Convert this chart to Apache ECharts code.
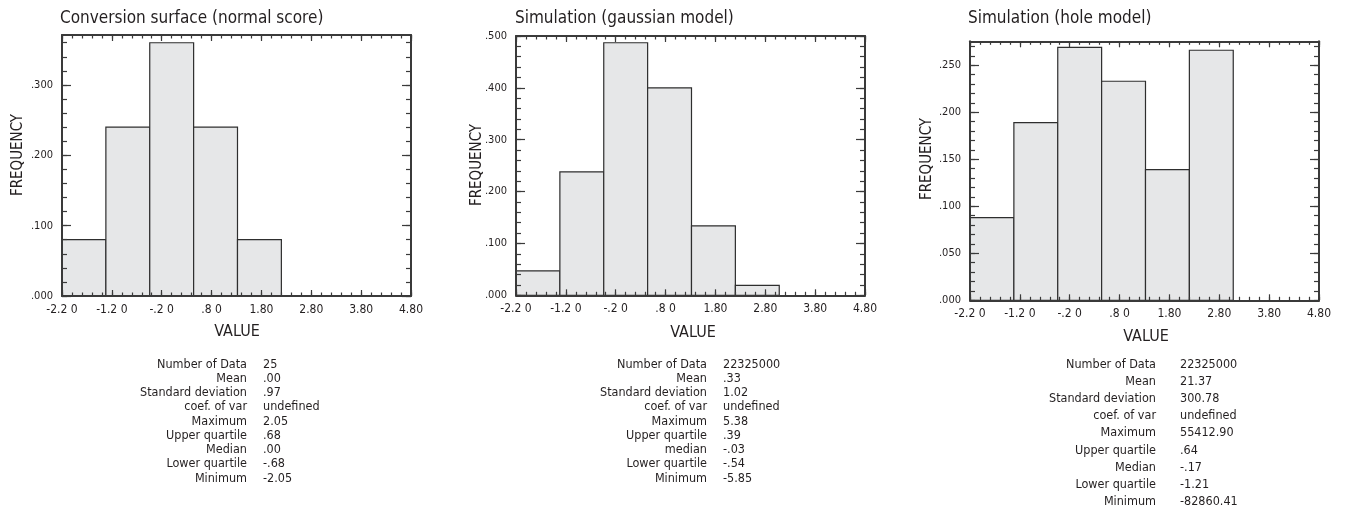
<!DOCTYPE html>
<html>
<head>
<meta charset="utf-8">
<script src="https://cdn.jsdelivr.net/npm/echarts@6/dist/echarts.min.js"></script>
<style>
  html, body { margin: 0; padding: 0; background: #fff; }
  #chart { width: 1346px; height: 510px; }
</style>
</head>
<body>
<div id="chart"></div>
<script>
// Histogram bins shared by the three panels (bin start/end on the VALUE axis)
const binEdges = [-2.2, -1.32, -0.44, 0.44, 1.32, 2.2, 3.08];

// Frequencies per bin
const freqNormalScore = [0.080, 0.240, 0.360, 0.240, 0.080];
const freqGaussian    = [0.047, 0.238, 0.487, 0.400, 0.134, 0.019];
const freqHole        = [0.088, 0.189, 0.269, 0.233, 0.139, 0.266];

// Panel titles
const titles = [
  'Conversion surface (normal score)',
  'Simulation (gaussian model)',
  'Simulation (hole model)'
];

// VALUE axis ticks and labels
const xTickValues = [-2.2, -1.2, -0.2, 0.8, 1.8, 2.8, 3.8, 4.8];
const xTickLabels = ['-2.2 0', '-1.2 0', '-.2 0', '.8 0', '1.80', '2.80', '3.80', '4.80'];

// FREQUENCY axis ticks and labels per panel
const yTicks1 = [0, 0.1, 0.2, 0.3];
const yLabels1 = ['.000', '.100', '.200', '.300'];
const yTicks2 = [0, 0.1, 0.2, 0.3, 0.4, 0.5];
const yLabels2 = ['.000', '.100', '.200', '.300', '.400', '.500'];
const yTicks3 = [0, 0.05, 0.1, 0.15, 0.2, 0.25];
const yLabels3 = ['.000', '.050', '.100', '.150', '.200', '.250'];

// Summary statistics printed under each panel
const statNames1 = ['Number of Data', 'Mean', 'Standard deviation', 'coef. of var', 'Maximum', 'Upper quartile', 'Median', 'Lower quartile', 'Minimum'];
const statValues1 = ['25', '.00', '.97', 'undefined', '2.05', '.68', '.00', '-.68', '-2.05'];
const statNames2 = ['Number of Data', 'Mean', 'Standard deviation', 'coef. of var', 'Maximum', 'Upper quartile', 'median', 'Lower quartile', 'Minimum'];
const statValues2 = ['22325000', '.33', '1.02', 'undefined', '5.38', '.39', '-.03', '-.54', '-5.85'];
const statNames3 = ['Number of Data', 'Mean', 'Standard deviation', 'coef. of var', 'Maximum', 'Upper quartile', 'Median', 'Lower quartile', 'Minimum'];
const statValues3 = ['22325000', '21.37', '300.78', 'undefined', '55412.90', '.64', '-.17', '-1.21', '-82860.41'];

const FONT = "'DejaVu Sans Condensed', 'Liberation Sans Narrow', sans-serif";
const INK = '#231f20';
const AXIS = '#3a3a3a';

function steps(from, to, step) {
  const out = [];
  const n = Math.round((to - from) / step);
  for (let i = 0; i <= n; i++) out.push(Math.round((from + i * step) * 10000) / 10000);
  return out;
}

const panels = [
  { freq: freqNormalScore, yTicks: yTicks1, yLabels: yLabels1, yMax: 0.371, yMinor: 0.02,
    grid: { left: 62, top: 35, width: 349, height: 261 },
    titleX: 60, freqLabel: [18, 155], valueLabel: [237, 332],
    names: statNames1, values: statValues1, statRight: 247, statLeft: 263, statTop: 364.3, statLine: 14.25 },
  { freq: freqGaussian, yTicks: yTicks2, yLabels: yLabels2, yMax: 0.5, yMinor: 0.02,
    grid: { left: 516, top: 36, width: 349, height: 259.3 },
    titleX: 515, freqLabel: [477, 165], valueLabel: [693, 333],
    names: statNames2, values: statValues2, statRight: 707, statLeft: 723, statTop: 364.3, statLine: 14.25 },
  { freq: freqHole, yTicks: yTicks3, yLabels: yLabels3, yMax: 0.2755, yMinor: 0.01,
    grid: { left: 970, top: 41.3, width: 349, height: 259 },
    titleX: 968, freqLabel: [927, 159], valueLabel: [1146, 337],
    names: statNames3, values: statValues3, statRight: 1156, statLeft: 1180, statTop: 364.3, statLine: 17.2 }
];

const xMinorTicks = steps(-2.2, 4.8, 0.2);

const grids = [], xAxes = [], yAxes = [], series = [], titleList = [], graphics = [];

function xAxisDef(gi, position, ticks, len, showLine, showLabels) {
  return {
    type: 'value', gridIndex: gi, position: position, min: -2.2, max: 4.8, z: 5,
    splitLine: { show: false },
    axisLine: { show: showLine, onZero: false, lineStyle: { color: AXIS, width: 2 } },
    axisTick: { show: true, inside: true, length: len, customValues: ticks, lineStyle: { color: AXIS, width: 1.2 } },
    axisLabel: showLabels ? {
      show: true, customValues: xTickValues, margin: 8,
      fontFamily: FONT, fontSize: 12, color: INK,
      formatter: v => xTickLabels[xTickValues.findIndex(t => Math.abs(t - v) < 1e-6)]
    } : { show: false }
  };
}

function yAxisDef(gi, position, p, ticks, len, showLine, showLabels) {
  return {
    type: 'value', gridIndex: gi, position: position, min: 0, max: p.yMax, z: 5,
    splitLine: { show: false },
    axisLine: { show: showLine, onZero: false, lineStyle: { color: AXIS, width: 2 } },
    axisTick: { show: true, inside: true, length: len, customValues: ticks, lineStyle: { color: AXIS, width: 1.2 } },
    axisLabel: showLabels ? {
      show: true, customValues: p.yTicks, margin: 9,
      fontFamily: FONT, fontSize: 11, color: INK,
      formatter: v => p.yLabels[p.yTicks.findIndex(t => Math.abs(t - v) < 1e-6)]
    } : { show: false }
  };
}

panels.forEach((p, gi) => {
  grids.push(Object.assign({ containLabel: false }, p.grid));

  const yMinorTicks = steps(0, Math.floor(p.yMax / p.yMinor + 1e-6) * p.yMinor, p.yMinor);

  const xBase = xAxes.length;
  xAxes.push(xAxisDef(gi, 'bottom', xTickValues, 6, true, true));
  xAxes.push(xAxisDef(gi, 'bottom', xMinorTicks, 3.5, false, false));
  xAxes.push(xAxisDef(gi, 'top', xTickValues, 6, true, false));
  xAxes.push(xAxisDef(gi, 'top', xMinorTicks, 3.5, false, false));

  const yBase = yAxes.length;
  yAxes.push(yAxisDef(gi, 'left', p, p.yTicks, 9, true, true));
  yAxes.push(yAxisDef(gi, 'left', p, yMinorTicks, 5, false, false));
  yAxes.push(yAxisDef(gi, 'right', p, p.yTicks, 9, true, false));
  yAxes.push(yAxisDef(gi, 'right', p, yMinorTicks, 5, false, false));

  const data = p.freq.map((f, i) => [binEdges[i], binEdges[i + 1], f]);
  series.push({
    type: 'custom', xAxisIndex: xBase, yAxisIndex: yBase, z: 2,
    encode: { x: [0, 1], y: 2 },
    data: data,
    renderItem: (params, api) => {
      const a = api.coord([api.value(0), api.value(2)]);
      const b = api.coord([api.value(1), 0]);
      return {
        type: 'rect',
        shape: { x: a[0], y: a[1], width: b[0] - a[0], height: b[1] - a[1] },
        style: { fill: '#e6e7e8', stroke: '#2e2e2e', lineWidth: 1.2 }
      };
    }
  });

  titleList.push({
    text: titles[gi], left: p.titleX, top: 10,
    padding: 0,
    textStyle: { fontFamily: FONT, fontSize: 17, fontWeight: 'normal', color: INK }
  });

  graphics.push({
    type: 'text', x: p.freqLabel[0], y: p.freqLabel[1], rotation: Math.PI / 2,
    style: { text: 'FREQUENCY', font: '15px ' + FONT, fill: INK, align: 'center', verticalAlign: 'middle' }
  });
  graphics.push({
    type: 'text', x: p.valueLabel[0], y: p.valueLabel[1],
    style: { text: 'VALUE', font: '16px ' + FONT, fill: INK, align: 'center', verticalAlign: 'middle' }
  });
  graphics.push({
    type: 'text', x: p.statRight, y: p.statTop - p.statLine / 2,
    style: { text: p.names.join('\n'), font: '12.5px ' + FONT, fill: INK, align: 'right', verticalAlign: 'top', lineHeight: p.statLine }
  });
  graphics.push({
    type: 'text', x: p.statLeft, y: p.statTop - p.statLine / 2,
    style: { text: p.values.join('\n'), font: '12.5px ' + FONT, fill: INK, align: 'left', verticalAlign: 'top', lineHeight: p.statLine }
  });
});

const chart = echarts.init(document.getElementById('chart'), null, { renderer: 'canvas' });
chart.setOption({
  animation: false,
  backgroundColor: '#ffffff',
  title: titleList,
  grid: grids,
  xAxis: xAxes,
  yAxis: yAxes,
  series: series,
  graphic: graphics
});
</script>
</body>
</html>
